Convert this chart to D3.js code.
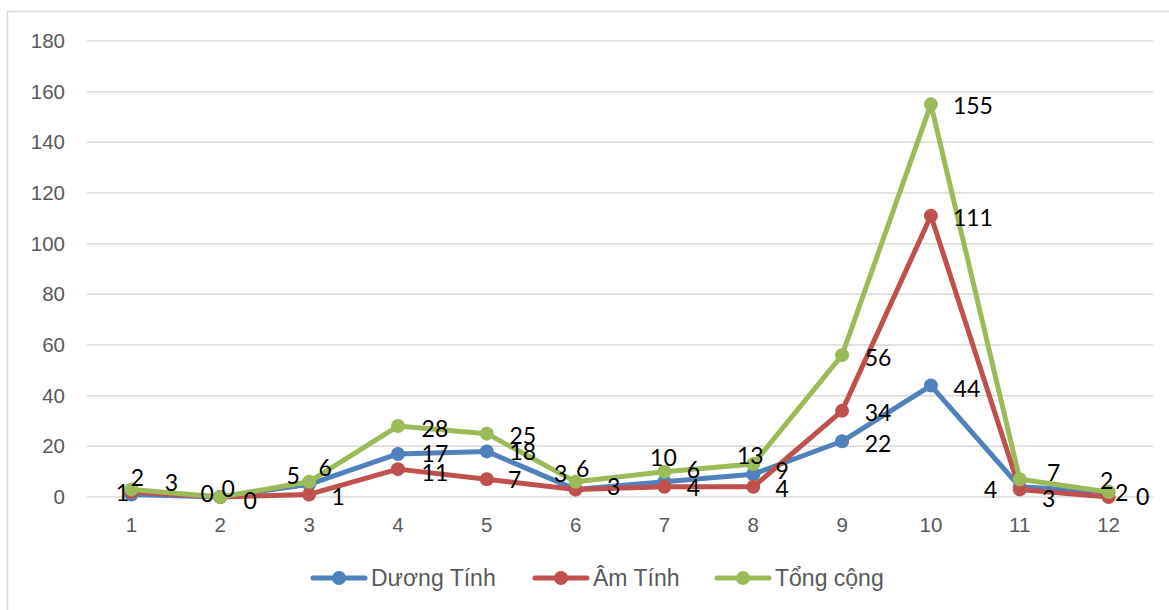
<!DOCTYPE html>
<html>
<head>
<meta charset="utf-8">
<script src="https://cdn.jsdelivr.net/npm/d3@7"></script>
<style>
  html, body { margin: 0; padding: 0; background: #fff; }
  svg { display: block; }
</style>
</head>
<body>
<svg id="chart" width="1169" height="610"></svg>
<script>
// Monthly counts
const months = ["1", "2", "3", "4", "5", "6", "7", "8", "9", "10", "11", "12"];
const duongTinh = [1, 0, 5, 17, 18, 3, 6, 9, 22, 44, 4, 2];
const amTinh    = [2, 0, 1, 11, 7, 3, 4, 4, 34, 111, 3, 0];
const tongCong  = [3, 0, 6, 28, 25, 6, 10, 13, 56, 155, 7, 2];
const yTicks = [0, 20, 40, 60, 80, 100, 120, 140, 160, 180];
const seriesNames = ["Dương Tính", "Âm Tính", "Tổng cộng"];

// Label placement (offset of label centre from its point, px)
const labelOffsets = {
  "Dương Tính": [[-9,-2],[-13,-4],[-16,-9],[37,-1],[36,0],[-15,-16],[29,-13],[29,-4],[36,2],[36,2],[-29,2],[13,0]],
  "Âm Tính":    [[6,-15],[30,3],[29,2],[37,3],[28,0],[38,-3],[29,0],[29,1],[36,1],[42,1],[29,9],[34,-1]],
  "Tổng cộng":  [[40,-7],[8,-9],[16,-15],[37,2],[36,1],[7,-14],[-1,-15],[-3,-9],[36,2],[42,1],[34,-7],[-2,-12]]
};
const colors = { "Dương Tính": "#4F81BD", "Âm Tính": "#C0504D", "Tổng cộng": "#9BBB59" };

const svg = d3.select("#chart");

// outer frame
svg.append("rect")
  .attr("x", 7.5).attr("y", 11.5)
  .attr("width", 1200).attr("height", 650)
  .attr("fill", "none").attr("stroke", "#d9d9d9").attr("stroke-width", 1.5);

const x = d3.scaleBand().domain(months).range([87, 1153]);
const y = d3.scaleLinear().domain([0, 180]).range([497, 41]);
const cx = m => x(m) + x.bandwidth() / 2;

// horizontal gridlines
svg.append("g")
  .selectAll("line").data(yTicks).join("line")
  .attr("x1", 87).attr("x2", 1153)
  .attr("y1", d => y(d)).attr("y2", d => y(d))
  .attr("stroke", "#d9d9d9").attr("stroke-width", 1.5);

// y axis labels
const yAxis = d3.axisLeft(y).tickValues(yTicks).tickSize(0).tickPadding(0);
svg.append("g")
  .attr("transform", "translate(65,0)")
  .call(yAxis)
  .call(g => g.select(".domain").remove())
  .call(g => g.selectAll("text")
    .attr("fill", "#595959")
    .style("font-family", "'Liberation Sans', Arial, sans-serif")
    .style("font-size", "20.5px"));

// x axis labels
const xAxis = d3.axisBottom(x).tickSize(0).tickPadding(0);
svg.append("g")
  .attr("transform", "translate(0,517)")
  .call(xAxis)
  .call(g => g.select(".domain").remove())
  .call(g => g.selectAll("text")
    .attr("fill", "#595959")
    .attr("dy", "0.71em")
    .style("font-family", "'Liberation Sans', Arial, sans-serif")
    .style("font-size", "20.5px"));

const series = [
  { name: "Dương Tính", values: duongTinh },
  { name: "Âm Tính", values: amTinh },
  { name: "Tổng cộng", values: tongCong }
];

const line = d3.line().x(d => cx(d.m)).y(d => y(d.v));

series.forEach(s => {
  const pts = months.map((m, i) => ({ m, v: s.values[i], i }));
  const g = svg.append("g");
  g.append("path")
    .datum(pts)
    .attr("d", line)
    .attr("fill", "none")
    .attr("stroke", colors[s.name])
    .attr("stroke-width", 5)
    .attr("stroke-linejoin", "round")
    .attr("stroke-linecap", "round");
  g.selectAll("circle").data(pts).join("circle")
    .attr("cx", d => cx(d.m)).attr("cy", d => y(d.v))
    .attr("r", 7)
    .attr("fill", colors[s.name]);
});

// data labels
series.forEach(s => {
  const offs = labelOffsets[s.name];
  svg.append("g")
    .selectAll("text")
    .data(months.map((m, i) => ({ m, v: s.values[i], i })))
    .join("text")
    .attr("x", d => cx(d.m) + offs[d.i][0])
    .attr("y", d => y(d.v) + offs[d.i][1])
    .attr("text-anchor", "middle")
    .attr("dominant-baseline", "central")
    .attr("fill", "#000")
    .style("font-family", "Lato, 'Liberation Sans', sans-serif")
    .style("font-size", "23px")
    .text(d => d.v);
});

// legend
const legendItems = [
  { name: seriesNames[0], x: 311 },
  { name: seriesNames[1], x: 533 },
  { name: seriesNames[2], x: 715 }
];
const lg = svg.append("g").attr("transform", "translate(0,578)");
legendItems.forEach(it => {
  const g = lg.append("g").attr("transform", `translate(${it.x},0)`);
  g.append("line")
    .attr("x1", 2).attr("x2", 54).attr("y1", 0).attr("y2", 0)
    .attr("stroke", colors[it.name]).attr("stroke-width", 5)
    .attr("stroke-linecap", "round");
  g.append("circle").attr("cx", 28).attr("cy", 0).attr("r", 7)
    .attr("fill", colors[it.name]);
  g.append("text")
    .attr("x", 60).attr("y", 0)
    .attr("dominant-baseline", "central")
    .attr("fill", "#595959")
    .style("font-family", "'Liberation Sans', Arial, sans-serif")
    .style("font-size", "23px")
    .text(it.name);
});
</script>
</body>
</html>
